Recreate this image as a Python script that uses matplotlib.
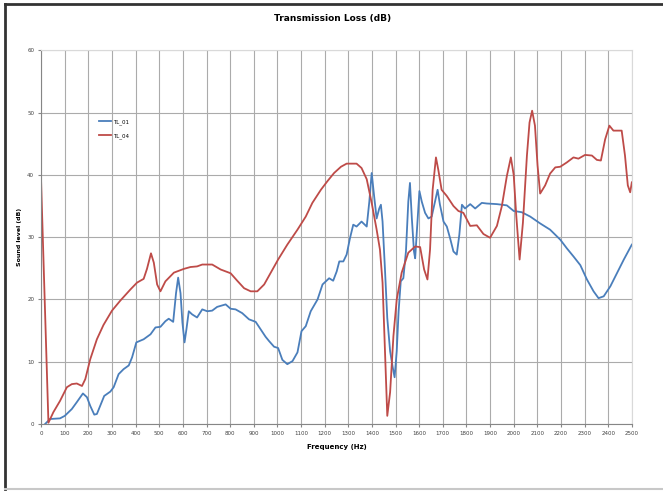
import matplotlib
matplotlib.use("Agg")
import matplotlib.pyplot as plt
from matplotlib.lines import Line2D

# TL_01 (blue)
f_tl01 = [17, 38, 80, 100, 130, 151, 177, 194, 208, 225, 236, 250, 267, 293, 307, 328, 349, 371,
          385, 403, 434, 463, 484, 505, 526, 540, 559, 571, 580, 590, 598, 607, 615, 625, 639,
          660, 682, 703, 724, 745, 781, 802, 823, 851, 880, 908, 929, 950, 965, 986, 1003, 1021,
          1042, 1064, 1085, 1102, 1120, 1141, 1170, 1191, 1219, 1236, 1251, 1262, 1279, 1293,
          1307, 1321, 1335, 1356, 1378, 1389, 1399, 1409, 1420, 1431, 1438, 1445, 1455, 1465,
          1477, 1488, 1496, 1505, 1513, 1522, 1533, 1544, 1554, 1561, 1569, 1578, 1583, 1592,
          1601, 1611, 1625, 1639, 1653, 1667, 1678, 1688, 1703, 1717, 1731, 1745, 1759, 1770,
          1781, 1794, 1816, 1837, 1865, 1886, 1929, 1971, 2000, 2034, 2070, 2112, 2154, 2197,
          2225, 2253, 2282, 2310, 2338, 2359, 2381, 2409, 2437, 2466, 2500]
tl01 = [0.0, 0.8, 0.9, 1.3, 2.4, 3.5, 4.9, 4.3, 2.9, 1.5, 1.6, 2.9, 4.5, 5.2, 5.9, 8.0, 8.8, 9.4,
        10.7, 13.1, 13.6, 14.4, 15.5, 15.6, 16.5, 16.9, 16.4, 21.0, 23.5, 21.0, 16.3, 13.1, 15.2,
        18.1, 17.6, 17.1, 18.4, 18.1, 18.2, 18.8, 19.2, 18.5, 18.4, 17.8, 16.8, 16.4, 15.2, 14.0,
        13.3, 12.4, 12.2, 10.3, 9.6, 10.1, 11.5, 14.9, 15.7, 18.1, 20.0, 22.4, 23.4, 23.0, 24.5,
        26.1, 26.1, 27.2, 29.8, 32.0, 31.7, 32.5, 31.7, 35.7, 40.3, 36.7, 33.0, 34.6, 35.2, 32.5,
        25.0, 17.0, 11.7, 9.1, 7.5, 11.7, 18.1, 22.9, 23.4, 27.7, 35.7, 38.7, 33.0, 27.7, 26.6,
        32.0, 37.4, 35.7, 33.9, 33.0, 33.3, 35.7, 37.6, 35.2, 32.5, 31.7, 29.8, 27.7, 27.2, 30.4,
        35.2, 34.6, 35.3, 34.6, 35.5, 35.4, 35.3, 35.1, 34.2, 34.0, 33.3, 32.2, 31.2, 29.6, 28.2,
        26.9, 25.5, 23.2, 21.3, 20.2, 20.5, 22.1, 24.2, 26.4, 28.8]

# TL_04 (red)
f_tl04 = [0, 31, 52, 80, 109, 130, 151, 173, 187, 208, 236, 264, 300, 335, 378, 406, 434, 448,
          465, 477, 491, 505, 526, 562, 604, 632, 660, 682, 724, 760, 802, 830, 859, 887, 915,
          944, 972, 1003, 1042, 1085, 1120, 1148, 1184, 1212, 1240, 1269, 1293, 1335, 1356, 1378,
          1399, 1420, 1434, 1445, 1455, 1465, 1477, 1491, 1505, 1526, 1554, 1583, 1604, 1621,
          1635, 1646, 1657, 1671, 1681, 1695, 1717, 1745, 1766, 1787, 1816, 1844, 1872, 1900,
          1929, 1950, 1971, 1988, 2000, 2011, 2025, 2039, 2056, 2067, 2078, 2090, 2101, 2112,
          2133, 2154, 2176, 2197, 2225, 2253, 2274, 2302, 2331, 2352, 2369, 2387, 2405, 2422,
          2439, 2457, 2471, 2483, 2493, 2500]
tl04 = [38.9, 0.2, 1.9, 3.7, 5.9, 6.4, 6.5, 6.1, 7.2, 10.4, 13.6, 15.9, 18.2, 19.8, 21.6, 22.7,
        23.3, 24.9, 27.4, 25.9, 22.4, 21.3, 22.9, 24.3, 24.9, 25.2, 25.3, 25.6, 25.6, 24.8, 24.2,
        23.0, 21.8, 21.3, 21.3, 22.4, 24.3, 26.4, 28.8, 31.2, 33.3, 35.5, 37.6, 39.0, 40.3, 41.3,
        41.8, 41.8, 41.1, 39.3, 35.5, 31.2, 28.0, 22.7, 12.0, 1.3, 5.1, 14.1, 20.0, 24.3, 27.5,
        28.5, 28.4, 24.8, 23.2, 28.0, 37.6, 42.8, 40.8, 37.6, 36.6, 35.0, 34.2, 33.9, 31.8, 31.9,
        30.5, 29.9, 31.8, 35.0, 39.8, 42.8, 40.0, 33.4, 26.4, 32.3, 43.1, 48.4, 50.3, 47.9, 41.5,
        37.0, 38.3, 40.2, 41.2, 41.3, 42.0, 42.8, 42.6, 43.2, 43.1, 42.4, 42.3, 45.7, 47.9, 47.1,
        47.1, 47.1, 43.1, 38.3, 37.2, 38.8]

x_ticks = list(range(0, 2600, 100))
y_ticks = list(range(0, 70, 10))

fig = plt.figure(figsize=(6.63, 4.93), dpi=100)
ax = fig.add_axes([0.062, 0.14, 0.891, 0.758])

ax.plot(f_tl01, tl01, color="#4a7ebb", lw=1.3, label="TL_01")
ax.plot(f_tl04, tl04, color="#be4b48", lw=1.3, label="TL_04")

ax.set_xlim(0, 2500)
ax.set_ylim(0, 60)
ax.set_xticks(x_ticks)
ax.set_yticks(y_ticks)
ax.tick_params(labelsize=4, length=2, color="#868686", labelcolor="#404040", pad=3)
ax.grid(True, color="#ababab", lw=0.8)
ax.set_axisbelow(True)
for side in ["top", "right"]:
    ax.spines[side].set_color("#d9d9d9")
for side in ["left", "bottom"]:
    ax.spines[side].set_color("#868686")

ax.set_xlabel("Frequency (Hz)", fontsize=5, fontweight="bold", labelpad=6)
ax.set_ylabel("Sound level (dB)", fontsize=4.5, fontweight="bold", labelpad=4)
fig.text(0.502, 0.963, "Transmission Loss (dB)", ha="center", va="center",
         fontsize=6.5, fontweight="bold")

ax.legend(loc="upper left", bbox_to_anchor=(0.09, 0.83), frameon=False,
          fontsize=4, handlelength=2.2, labelspacing=1.6, handletextpad=0.3)

# outer frame
fig.add_artist(Line2D([0.008, 1.0], [0.991, 0.991], color="#333333", lw=2))
fig.add_artist(Line2D([0.008, 0.008], [0.008, 0.991], color="#333333", lw=2))
fig.add_artist(Line2D([0.008, 1.0], [0.008, 0.008], color="#c8c8c8", lw=1.5))

fig.savefig("out.png", dpi=100)
